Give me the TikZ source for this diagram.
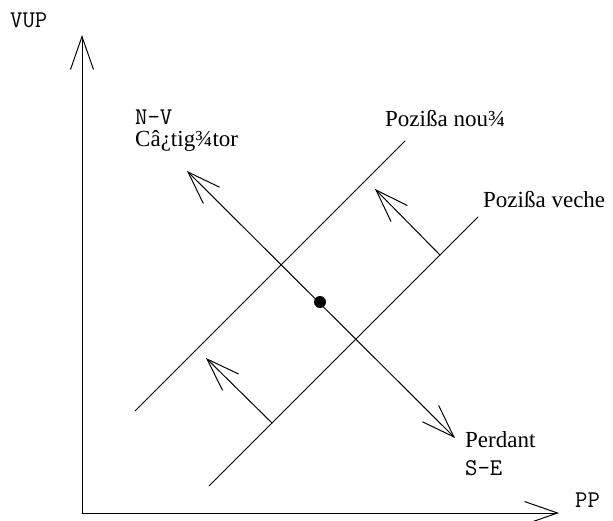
\documentclass[tikz,border=0pt]{standalone}
\usepackage{fontspec}
\setmainfont{Liberation Serif}
\usetikzlibrary{arrows.meta}
\tikzset{
  ln/.style={line width=1pt, line cap=round},
  barb/.style={-{Straight Barb[length=33pt,width=23pt,line width=1pt]}},
  dbarb/.style={{Straight Barb[length=33pt,width=23pt,line width=1pt]}-{Straight Barb[length=33pt,width=23pt,line width=1pt]}},
  lbl/.style={inner sep=0pt, anchor=base west, font=\fontsize{23}{25}\selectfont},
  mlbl/.style={lbl, font=\fontsize{24}{26}\selectfont\ttfamily},
}
\begin{document}
\begin{tikzpicture}[x=1pt,y=-1pt]
\useasboundingbox (0,0) rectangle (613,521);
% axes
\coordinate (O) at (82,513);
\coordinate (Ytop) at (82,35);
\coordinate (Xend) at (559,513);
\draw[ln,barb] (O) -- (Ytop);
\draw[ln,barb] (O) -- (Xend);
% position lines
\coordinate (N1) at (135,411);
\coordinate (N2) at (405,141);
\coordinate (V1) at (209,486);
\coordinate (V2) at (478,217);
\draw[ln] (N1) -- (N2);
\draw[ln] (V1) -- (V2);
% diagonal double arrow
\coordinate (D1) at (187,171);
\coordinate (D2) at (455,438);
\draw[ln,dbarb] (D1) -- (D2);
\node[circle, fill=black, inner sep=0pt, minimum size=12pt] (dot) at (320,302) {};
% shift arrows
\coordinate (A1) at (440,255);
\coordinate (A1t) at (375,189);
\coordinate (A2) at (272,423);
\coordinate (A2t) at (206,358);
\draw[ln,barb] (A1) -- (A1t);
\draw[ln,barb] (A2) -- (A2t);
% labels
\node[mlbl] (vup) at (10,28) {VUP};
\node[mlbl] (pp) at (575,507) {PP};
\node[mlbl] (nv) at (135,125) {N-V};
\node[lbl] (cast) at (135,147) {Câ¿tig¾tor};
\node[lbl] (noua) at (385,127) {Pozißa nou¾};
\node[lbl] (veche) at (483,208) {Pozißa veche};
\node[lbl] (perd) at (465,447) {Perdant};
\node[mlbl] (se) at (465,475) {S-E};
\end{tikzpicture}
\end{document}
